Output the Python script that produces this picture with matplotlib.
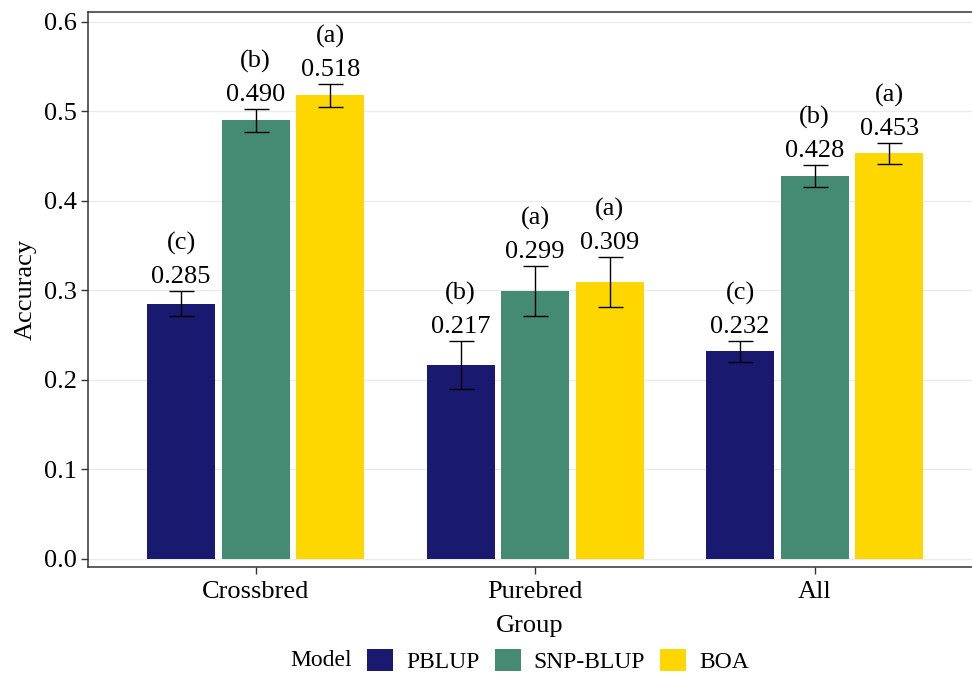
import matplotlib.pyplot as plt
from matplotlib.patches import Patch
import numpy as np

plt.rcParams['font.family'] = ['Liberation Serif', 'DejaVu Serif']

groups = ['Crossbred', 'Purebred', 'All']
models = ['PBLUP', 'SNP-BLUP', 'BOA']
colors = ['#191970', '#458B74', '#FFD700']

# accuracy and standard error per model (rows) and group (columns)
acc = [[0.285, 0.217, 0.232],
       [0.490, 0.299, 0.428],
       [0.518, 0.309, 0.453]]
se = [[0.014, 0.027, 0.012],
      [0.013, 0.028, 0.012],
      [0.013, 0.028, 0.012]]
letters = [['(c)', '(b)', '(c)'],
           ['(b)', '(a)', '(b)'],
           ['(a)', '(a)', '(a)']]

fig = plt.figure(figsize=(9.72, 6.73), dpi=100)
ax = fig.add_axes([88/972, 1 - 567/673, 1 - 88/972, (567 - 12)/673])

x = np.arange(1, len(groups) + 1)
width = 0.243
step = 0.267
fs = 19
lfs = 17

for i, m in enumerate(models):
    xi = x + (i - 1) * step
    ax.bar(xi, acc[i], width=width, color=colors[i], zorder=2)
    ax.errorbar(xi, acc[i], yerr=se[i], fmt='none', ecolor='black',
                elinewidth=1, capsize=9, capthick=1, zorder=3)
    for j in range(len(groups)):
        top = acc[i][j] + se[i][j]
        ax.annotate(f'{acc[i][j]:.3f}', (xi[j], top), xytext=(0, 3),
                    textcoords='offset pixels', ha='center', va='bottom',
                    fontsize=fs)
        ax.annotate(letters[i][j], (xi[j], top), xytext=(0, 36),
                    textcoords='offset pixels', ha='center', va='bottom',
                    fontsize=fs)

ax.set_xlim(0.4, 3.563)
ax.set_ylim(-0.009, 0.611)
ax.set_xticks(x)
ax.set_xticklabels(groups, fontsize=fs)
ax.set_yticks(np.arange(0, 0.61, 0.1))
ax.set_yticklabels([f'{v:.1f}' for v in np.arange(0, 0.61, 0.1)], fontsize=fs)
ax.yaxis.grid(True, color='#EBEBEB', lw=1, zorder=0)
ax.set_axisbelow(True)
for s in ['left', 'bottom', 'top']:
    ax.spines[s].set_color('#333333')
    ax.spines[s].set_linewidth(1.1)
ax.spines['right'].set_visible(False)
ax.tick_params(axis='both', color='#333333', length=5, width=1)
ax.tick_params(axis='x', pad=5)
ax.tick_params(axis='y', pad=3)
ax.set_ylabel('Accuracy', fontsize=fs, labelpad=5)
ax.set_xlabel('Group', fontsize=fs, labelpad=9)

handles = [Patch(facecolor=c, edgecolor='none') for c in colors]
fig.text(290/972, 1 - 661/673, 'Model', fontsize=lfs, ha='left', va='center')
fig.legend(handles, models, ncol=3, loc='center left',
           bbox_to_anchor=(367/972, 1 - 661/673), frameon=False,
           fontsize=lfs, handlelength=1.1, handleheight=1.1,
           handletextpad=0.55, columnspacing=0.65, borderaxespad=0,
           borderpad=0)

fig.savefig('out.png', dpi=100)
